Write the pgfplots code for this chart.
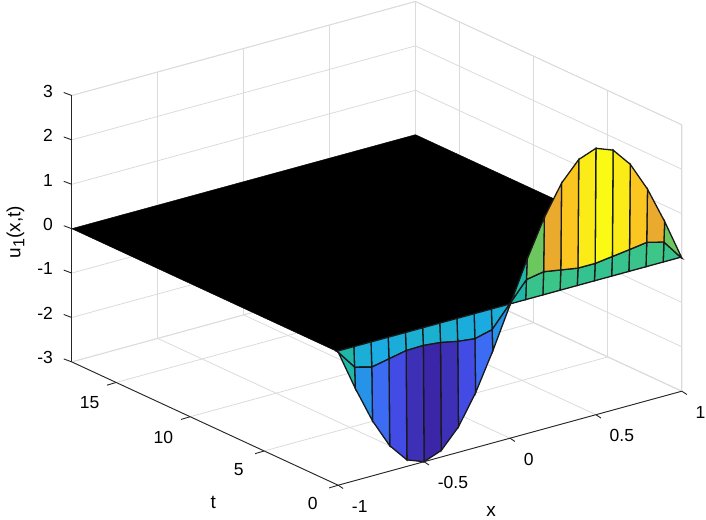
\documentclass[border=0pt]{standalone}
\usepackage{fontspec}
\setmainfont{Liberation Sans}
\usepackage{pgfplots}
\pgfplotsset{compat=1.18}
\usepackage{pgfplotstable}
\pgfplotstableread{
x t z
-1.0 0.00 0
-0.9 0.00 -0.927
-0.8 0.00 -1.763
-0.7 0.00 -2.427
-0.6 0.00 -2.853
-0.5 0.00 -3.000
-0.4 0.00 -2.853
-0.3 0.00 -2.427
-0.2 0.00 -1.763
-0.1 0.00 -0.927
0.0 0.00 0
0.1 0.00 0.927
0.2 0.00 1.763
0.3 0.00 2.427
0.4 0.00 2.853
0.5 0.00 3.000
0.6 0.00 2.853
0.7 0.00 2.427
0.8 0.00 1.763
0.9 0.00 0.927
1.0 0.00 0
-1.0 0.05 0
-0.9 0.05 -0.455
-0.8 0.05 -0.56
-0.7 0.05 -0.48
-0.6 0.05 -0.40
-0.5 0.05 -0.39
-0.4 0.05 -0.43
-0.3 0.05 -0.51
-0.2 0.05 -0.556
-0.1 0.05 -0.458
0.0 0.05 0
0.1 0.05 0.46
0.2 0.05 0.53
0.3 0.05 0.465
0.4 0.05 0.40
0.5 0.05 0.40
0.6 0.05 0.45
0.7 0.05 0.50
0.8 0.05 0.556
0.9 0.05 0.458
1.0 0.05 0
-1.0 0.10 0
-0.9 0.10 0
-0.8 0.10 0
-0.7 0.10 0
-0.6 0.10 0
-0.5 0.10 0
-0.4 0.10 0
-0.3 0.10 0
-0.2 0.10 0
-0.1 0.10 0
0.0 0.10 0
0.1 0.10 0
0.2 0.10 0
0.3 0.10 0
0.4 0.10 0
0.5 0.10 0
0.6 0.10 0
0.7 0.10 0
0.8 0.10 0
0.9 0.10 0
1.0 0.10 0
}\surfdata
\begin{document}
\begin{tikzpicture}[x=1pt,y=1pt]
\path[use as bounding box] (-510,-214) rectangle (196,305);
\begin{axis}[
  at={(0,0)}, anchor=origin,
  x={(171.85pt,47pt)}, y={(-14.8pt,6.85pt)}, z={(0pt,44.4pt)},
  xmin=-1,xmax=1,ymin=0,ymax=18,zmin=-3,zmax=3,
  clip=false,
  axis line style={draw=none},
  grid=major,
  grid style={draw=black!14,line width=0.8pt},
  tick style={draw=none},
  tick align=outside,
  major tick length=8pt,
  xtick={-1,-0.5,0,0.5,1}, xticklabels={-1,-0.5,0,0.5,1},
  ytick={0,5,10,15}, yticklabels={0,5,10,15},
  ztick={-3,-2,-1,0,1,2,3}, zticklabels={-3,-2,-1,0,1,2,3},
  tick label style={font=\fontsize{17.5}{19}\selectfont},
  xticklabel style={anchor=west,xshift=3pt,yshift=-17.5pt},
  yticklabel style={xshift=-10pt,yshift=-6.5pt},
  zticklabel style={xshift=-8pt},
  label style={font=\fontsize{19}{20}\selectfont},
  xlabel={x}, ylabel={t}, zlabel={u\raisebox{-4pt}{\fontsize{16}{18}\selectfont 1}(x,t)},
  xlabel style={at={(axis cs:-0.645,-6.22,-3)},anchor=center,inner sep=0pt},
  ylabel style={at={(axis cs:-1.59,1.58,-3)},anchor=center},
  zlabel style={at={(axis cs:-1,21.8,-0.66)},anchor=center,rotate=0},
  colormap={parula}{
    rgb=(0.23,0.15,0.66) rgb=(0.26,0.30,0.90)
    rgb=(0.24,0.42,0.96) rgb=(0.19,0.50,0.92)
    rgb=(0.10,0.67,0.90) rgb=(0.12,0.72,0.66)
    rgb=(0.25,0.78,0.52) rgb=(0.58,0.78,0.25)
    rgb=(0.94,0.66,0.17) rgb=(0.99,0.77,0.13)
    rgb=(0.98,0.98,0.08)},
  point meta min=-3, point meta max=3,
]
% back edges of the box
\draw[black!14,line width=0.8pt] (rel axis cs:0,1,1) -- (rel axis cs:1,1,1) -- (rel axis cs:1,0,1) -- (rel axis cs:1,0,0) -- (rel axis cs:1,1,0) -- (rel axis cs:0,1,0);
\draw[black!14,line width=0.8pt] (rel axis cs:1,1,0) -- (rel axis cs:1,1,1);
\addplot3[fill=black,draw=black] coordinates {(-1,0.1,0) (1,0.1,0) (1,18,0) (-1,18,0)} -- cycle;
\addplot3[surf, shader=flat corner, draw=black!90, line width=1.3pt, mesh/ordering=x varies, mesh/cols=21, z buffer=default, point meta=\thisrow{z}] table[x=x,y=t,z=z] {\surfdata};
% axis lines
\draw[black!85,line width=0.9pt] (rel axis cs:0,1,0) -- (rel axis cs:0,0,0) -- (rel axis cs:1,0,0);
\draw[black!85,line width=0.9pt] (rel axis cs:0,1,0) -- (rel axis cs:0,1,1);
% x ticks
\draw[black!85,line width=0.9pt] (axis cs:-1,0,-3) -- ++(5pt,-3.3pt);
\draw[black!85,line width=0.9pt] (axis cs:-0.5,0,-3) -- ++(5pt,-3.3pt);
\draw[black!85,line width=0.9pt] (axis cs:0,0,-3) -- ++(5pt,-3.3pt);
\draw[black!85,line width=0.9pt] (axis cs:0.5,0,-3) -- ++(5pt,-3.3pt);
\draw[black!85,line width=0.9pt] (axis cs:1,0,-3) -- ++(5pt,-3.3pt);
% t ticks
\draw[black!85,line width=0.9pt] (axis cs:-1,0,-3) -- ++(-9pt,-2.7pt);
\draw[black!85,line width=0.9pt] (axis cs:-1,5,-3) -- ++(-9pt,-2.7pt);
\draw[black!85,line width=0.9pt] (axis cs:-1,10,-3) -- ++(-9pt,-2.7pt);
\draw[black!85,line width=0.9pt] (axis cs:-1,15,-3) -- ++(-9pt,-2.7pt);
% z ticks
\draw[black!85,line width=0.9pt] (axis cs:-1,18,-3) -- ++(-8pt,3pt);
\draw[black!85,line width=0.9pt] (axis cs:-1,18,-2) -- ++(-8pt,3pt);
\draw[black!85,line width=0.9pt] (axis cs:-1,18,-1) -- ++(-8pt,3pt);
\draw[black!85,line width=0.9pt] (axis cs:-1,18,0) -- ++(-8pt,3pt);
\draw[black!85,line width=0.9pt] (axis cs:-1,18,1) -- ++(-8pt,3pt);
\draw[black!85,line width=0.9pt] (axis cs:-1,18,2) -- ++(-8pt,3pt);
\draw[black!85,line width=0.9pt] (axis cs:-1,18,3) -- ++(-8pt,3pt);
\end{axis}
\end{tikzpicture}
\end{document}
